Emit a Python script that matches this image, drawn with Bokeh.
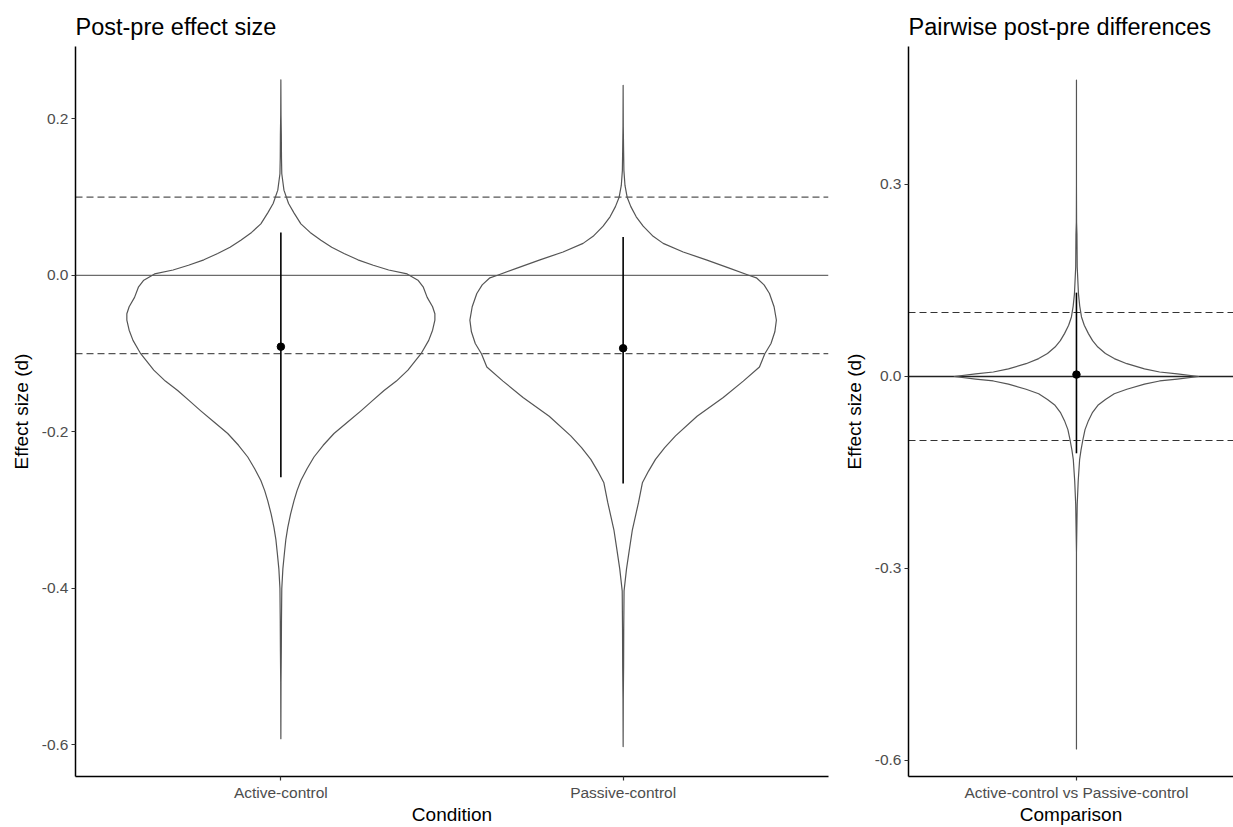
from bokeh.plotting import figure
from bokeh.layouts import row
from bokeh.models import Range1d, FixedTicker, PrintfTickFormatter, Span
from bokeh.embed import file_html
from bokeh.resources import INLINE

# ---------------- data ----------------
conditions = ["Active-control", "Passive-control"]
cond_means = [-0.091, -0.093]
cond_ci_low = [-0.258, -0.266]
cond_ci_high = [0.055, 0.049]

# violin profiles (effect size value, relative density)
active_y = [0.250, 0.205, 0.180, 0.150, 0.130, 0.109, 0.092, 0.080, 0.066, 0.055,
            0.045, 0.036, 0.028, 0.020, 0.013, 0.007, 0.002, -0.006, -0.015, -0.028,
            -0.040, -0.049, -0.057, -0.070, -0.083, -0.100, -0.121, -0.135, -0.147,
            -0.160, -0.173, -0.188, -0.202, -0.217, -0.232, -0.247, -0.262, -0.275,
            -0.288, -0.305, -0.322, -0.338, -0.355, -0.375, -0.400, -0.440, -0.477,
            -0.520, -0.592]
active_density = [0.000, 0.001, 0.003, 0.004, 0.006, 0.020, 0.050, 0.085, 0.130, 0.190,
                  0.260, 0.330, 0.410, 0.500, 0.600, 0.700, 0.820, 0.890, 0.925, 0.950,
                  0.985, 1.000, 1.000, 0.985, 0.960, 0.910, 0.825, 0.750, 0.670,
                  0.595, 0.520, 0.430, 0.345, 0.275, 0.215, 0.170, 0.130, 0.105,
                  0.085, 0.063, 0.045, 0.032, 0.023, 0.013, 0.006, 0.004, 0.003,
                  0.001, 0.000]

passive_y = [0.243, 0.190, 0.160, 0.134, 0.115, 0.100, 0.088, 0.075, 0.063, 0.050,
             0.041, 0.030, 0.020, 0.010, 0.000, -0.003, -0.012, -0.023, -0.040, -0.057,
             -0.072, -0.087, -0.100, -0.117, -0.135, -0.156, -0.180, -0.205, -0.220,
             -0.235, -0.250, -0.265, -0.290, -0.325, -0.351, -0.375, -0.403, -0.450,
             -0.500, -0.540, -0.602]
passive_density = [0.000, 0.001, 0.003, 0.005, 0.012, 0.026, 0.050, 0.085, 0.130, 0.195,
                   0.260, 0.390, 0.540, 0.680, 0.820, 0.865, 0.915, 0.950, 0.980, 0.995,
                   0.985, 0.960, 0.920, 0.885, 0.780, 0.650, 0.480, 0.340, 0.270,
                   0.210, 0.165, 0.125, 0.100, 0.060, 0.040, 0.022, 0.006, 0.004,
                   0.003, 0.001, 0.000]

comparisons = ["Active-control vs Passive-control"]
diff_means = [0.003]
diff_ci_low = [-0.120]
diff_ci_high = [0.131]
diff_y = [0.463, 0.300, 0.241, 0.222, 0.171, 0.129, 0.110, 0.093, 0.080, 0.067, 0.056,
          0.046, 0.036, 0.028, 0.020, 0.012, 0.007, 0.004, 0.000, -0.004, -0.007,
          -0.012, -0.020, -0.027, -0.036, -0.045, -0.056, -0.069, -0.083, -0.100,
          -0.115, -0.130, -0.163, -0.200, -0.225, -0.275, -0.582]
diff_density = [0.000, 0.000, 0.001, 0.004, 0.006, 0.016, 0.026, 0.040, 0.062, 0.095, 0.128,
                0.170, 0.230, 0.300, 0.400, 0.540, 0.660, 0.800, 0.970, 0.800, 0.660,
                0.540, 0.400, 0.300, 0.230, 0.170, 0.128, 0.095, 0.068, 0.050,
                0.036, 0.025, 0.014, 0.006, 0.004, 0.000, 0.000]

left_yticks = [-0.6, -0.4, -0.2, 0.0, 0.2]
right_yticks = [-0.6, -0.3, 0.0, 0.3]
zero_line = 0.0
equivalence_bounds = [-0.1, 0.1]

FONT = "Liberation Sans"
VIOLIN_HALF = 0.45


def style(p, title, xlabel):
    p.title.text = title
    p.title.text_font = FONT
    p.title.text_font_size = "23.5px"
    p.title.text_font_style = "normal"
    p.title.text_color = "black"
    p.title.align = "left"
    p.title.offset = 0
    p.title.standoff = 13
    p.xgrid.visible = False
    p.ygrid.visible = False
    p.outline_line_color = None
    p.background_fill_color = "white"
    p.border_fill_color = "white"
    for ax in (p.xaxis[0], p.yaxis[0]):
        ax.axis_line_color = "black"
        ax.axis_line_width = 1.5
        ax.major_tick_line_color = "#333333"
        ax.major_tick_line_width = 1.2
        ax.major_tick_in = 0
        ax.major_tick_out = 4
        ax.minor_tick_line_color = None
        ax.major_label_text_font = FONT
        ax.major_label_text_font_size = "15.5px"
        ax.major_label_text_color = "#4D4D4D"
        ax.major_label_standoff = 3
        ax.axis_label_text_font = FONT
        ax.axis_label_text_font_size = "19px"
        ax.axis_label_text_font_style = "normal"
        ax.axis_label_text_color = "black"
    p.xaxis.axis_label = xlabel
    p.xaxis.axis_label_standoff = 0
    p.xaxis.major_label_standoff = 3
    p.yaxis.axis_label = "Effect size (d)"
    p.yaxis.axis_label_standoff = 7


def violin(p, center, ys, dens, color="#555555"):
    xs = [center + d * VIOLIN_HALF for d in dens] + [center - d * VIOLIN_HALF for d in reversed(dens)]
    yy = list(ys) + list(reversed(ys))
    p.patch(xs, yy, fill_color=None, line_color=color, line_width=1.2,
            line_join="round")


def ref_lines(p, zero_color, dash_color, zero_w):
    p.add_layout(Span(location=zero_line, dimension="width", line_color=zero_color,
                      line_width=zero_w, level="underlay"))
    for b in equivalence_bounds:
        p.add_layout(Span(location=b, dimension="width", line_color=dash_color,
                          line_width=1.2, line_dash="7 4", level="underlay"))


# ---------------- left panel ----------------
cond_pos = [i + 1 for i in range(len(conditions))]
left = figure(width=840, height=827, output_backend="svg", toolbar_location=None,
              x_range=Range1d(0.4, len(conditions) + 0.6),
              y_range=Range1d(-0.6403, 0.2926),
              min_border_left=75, min_border_right=12, min_border_top=46, min_border_bottom=48)
style(left, "Post-pre effect size", "Condition")
ref_lines(left, "#6b6b6b", "#555555", 1.2)
violin(left, cond_pos[0], active_y, active_density)
violin(left, cond_pos[1], passive_y, passive_density)
left.segment(x0=cond_pos, y0=cond_ci_low, x1=cond_pos, y1=cond_ci_high,
             line_color="black", line_width=1.6)
left.scatter(cond_pos, cond_means, size=7.5, color="black")
left.xaxis.ticker = FixedTicker(ticks=cond_pos)
left.xaxis.major_label_overrides = {pos: name for pos, name in zip(cond_pos, conditions)}
left.yaxis.ticker = FixedTicker(ticks=left_yticks)
left.yaxis.formatter = PrintfTickFormatter(format="%.1f")

# ---------------- right panel ----------------
comp_pos = [i + 1 for i in range(len(comparisons))]
right = figure(width=393, height=827, output_backend="svg", toolbar_location=None,
               x_range=Range1d(0.4, 1.561),
               y_range=Range1d(-0.625, 0.5156),
               min_border_left=66, min_border_right=0, min_border_top=46, min_border_bottom=48)
style(right, "Pairwise post-pre differences", "Comparison")
ref_lines(right, "#222222", "#333333", 1.3)
violin(right, comp_pos[0], diff_y, diff_density)
right.segment(x0=comp_pos, y0=diff_ci_low, x1=comp_pos, y1=diff_ci_high,
              line_color="black", line_width=1.6)
right.scatter(comp_pos, diff_means, size=7.5, color="black")
right.xaxis.ticker = FixedTicker(ticks=comp_pos)
right.xaxis.major_label_overrides = {pos: name for pos, name in zip(comp_pos, comparisons)}
right.yaxis.ticker = FixedTicker(ticks=right_yticks)
right.yaxis.formatter = PrintfTickFormatter(format="%.1f")

layout = row(left, right)
open("out.html", "w").write(file_html(layout, INLINE))
